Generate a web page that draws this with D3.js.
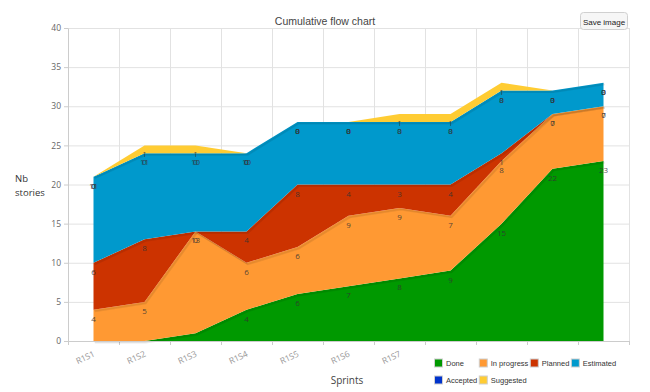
<!DOCTYPE html>
<html><head><meta charset="utf-8">
<script src="https://cdn.jsdelivr.net/npm/d3@7"></script>
<style>body{margin:0;background:#fff}svg{display:block}</style>
</head><body>
<svg id="c" width="650" height="392"></svg>
<script>
const categories = ["R1S1","R1S2","R1S3","R1S4","R1S5","R1S6","R1S7","R1S8","R1S9","R1S10","R1S11"];
const visibleTickLabels = ["R1S1","R1S2","R1S3","R1S4","R1S5","R1S6","R1S7"];
const seriesNames = ["Done","In progress","Planned","Estimated","Accepted","Suggested"];
const done       = [0,0,1,4,6,7,8,9,15,22,23];
const inProgress = [4,5,13,6,6,9,9,7,8,7,7];
const planned    = [6,8,0,4,8,4,3,4,1,0,0];
const estimated  = [11,11,10,10,8,8,8,8,8,3,3];
const accepted   = [0,0,0,0,0,0,0,0,0,0,0];
const suggested  = [0,1,1,0,0,0,1,1,1,0,0];
const yTicks = [0,5,10,15,20,25,30,35,40];
const seriesColors = ["#009900","#ff9933","#cc3300","#0099cc","#0033cc","#ffcc33"];

const seriesValues = [done, inProgress, planned, estimated, accepted, suggested];
const table = categories.map((c,i)=>{const o={cat:c}; seriesNames.forEach((n,k)=>o[n]=seriesValues[k][i]); return o;});
const stack = d3.stack().keys(seriesNames)(table);

const svg = d3.select("#c");
const L=68, R=629, T=28, B=341;
const x = d3.scaleBand().domain(categories).range([L,R]);
const cx = c => x(c)+x.bandwidth()/2;
const y = d3.scaleLinear().domain([0,40]).range([B,T]);

// grid
const g = svg.append("g");
g.selectAll("line.h").data(yTicks).join("line")
  .attr("x1",L).attr("x2",R).attr("y1",d=>y(d)+0.5).attr("y2",d=>y(d)+0.5)
  .attr("stroke","#e2e2e2").attr("stroke-width",1);
const bounds = categories.map(c=>x(c)).concat([R]);
g.selectAll("line.v").data(bounds).join("line")
  .attr("x1",d=>Math.round(d)+0.5).attr("x2",d=>Math.round(d)+0.5).attr("y1",T).attr("y2",B)
  .attr("stroke","#e2e2e2").attr("stroke-width",1);
g.selectAll("line.xt").data(bounds).join("line")
  .attr("x1",d=>Math.round(d)+0.5).attr("x2",d=>Math.round(d)+0.5).attr("y1",B).attr("y2",B+4)
  .attr("stroke","#cccccc");

// areas with soft shadow under each layer's lower edge
const area = d3.area().x(d=>cx(d.data.cat)).y0(d=>y(d[0])).y1(d=>y(d[1]));
const line = d3.line().x(d=>cx(d.data.cat)).y(d=>y(d[0]));
stack.forEach((s,k)=>{
  const nonEmpty = d3.max(seriesValues[k])>0;
  if(k>0 && nonEmpty){
    for(let j=1;j<=2;j++){
      svg.append("path").datum(s).attr("d",line).attr("fill","none")
        .attr("stroke","#000").attr("stroke-opacity",0.08).attr("stroke-width",1.4)
        .attr("transform",`translate(${0.7*j},${0.9*j})`);
    }
  }
  svg.append("path").datum(s).attr("d",area).attr("fill",seriesColors[k]);
});

// y axis
const ya = svg.append("g").attr("transform",`translate(${L},0)`)
  .call(d3.axisLeft(y).tickValues(yTicks).tickSize(4).tickSizeOuter(0).tickPadding(3));
ya.select(".domain").attr("stroke","#cccccc");
ya.selectAll(".tick line").attr("stroke","#cccccc");
ya.selectAll("text").attr("fill","#666").style("font","8.5px 'Open Sans'");

// x axis labels
const xa = svg.append("g").attr("transform",`translate(0,${B})`)
  .call(d3.axisBottom(x).tickSize(0).tickFormat((d,i)=>visibleTickLabels[i]||""));
xa.select(".domain").attr("stroke","#cccccc");
xa.selectAll("text").attr("fill","#999").style("font","8.5px 'Open Sans'")
  .attr("text-anchor","end").attr("y",0).attr("dy",0)
  .attr("transform","translate(2,15) rotate(-25)");

// point labels (drawn for every series, as in the reference)
const lab = svg.append("g").style("font","8px 'Open Sans'").attr("fill","#333").attr("fill-opacity",0.85);
stack.forEach((s,k)=>{
  s.forEach(d=>{
    const yy = y(d[1])+12;
    if(yy>B) return;
    lab.append("text").attr("x",cx(d.data.cat)).attr("y",yy).attr("text-anchor","middle")
      .text(d.data[seriesNames[k]]);
  });
});

// title
svg.append("text").attr("x",325).attr("y",24.5).attr("text-anchor","middle")
  .attr("fill","#444").style("font","10.5px 'Liberation Sans', Arial").text("Cumulative flow chart");
// save button
svg.append("rect").attr("x",580.5).attr("y",12.5).attr("width",47).attr("height",17).attr("rx",3)
  .attr("fill","#f6f6f6").attr("stroke","#d0d0d0");
svg.append("text").attr("x",604).attr("y",24.5).attr("text-anchor","middle")
  .attr("fill","#222").style("font","8px 'Liberation Sans', Arial").text("Save image");
// axis titles
svg.append("text").attr("x",15).attr("y",182).attr("fill","#333").style("font","9.5px 'Open Sans'").text("Nb");
svg.append("text").attr("x",15).attr("y",196).attr("fill","#333").style("font","9.5px 'Open Sans'").text("stories");
svg.append("text").attr("x",347).attr("y",384).attr("text-anchor","middle").attr("fill","#444")
  .style("font","10px 'Open Sans'").text("Sprints");

// legend (table: 2 rows x 4 cols)
const lg = svg.append("g").style("font","7.5px 'Liberation Sans', Arial");
const ncol=4, sw=8, gap=4, pad=1.5;
const items = seriesNames.map((n,k)=>({n,k,row:Math.floor(k/ncol),col:k%ncol}));
const tmp = lg.append("text").attr("visibility","hidden");
items.forEach(it=>{tmp.text(it.n); it.w=tmp.node().getComputedTextLength();});
tmp.remove();
const colX=[435];
for(let c=1;c<ncol;c++){
  const w=d3.max(items.filter(it=>it.col===c-1),it=>it.w);
  colX.push(colX[c-1]+sw+gap+w+pad);
}
const rowY=[363.5,380.5];
items.forEach(it=>{
  const x0=colX[it.col], y0=rowY[it.row];
  lg.append("rect").attr("x",x0-0.5).attr("y",y0-4.5).attr("width",sw).attr("height",sw)
    .attr("fill",seriesColors[it.k]).attr("stroke","#cfcfcf").attr("stroke-width",1);
  lg.append("text").attr("x",x0+sw+gap-1).attr("y",y0+2.7).attr("fill","#333").text(it.n);
});
</script>
</body></html>
